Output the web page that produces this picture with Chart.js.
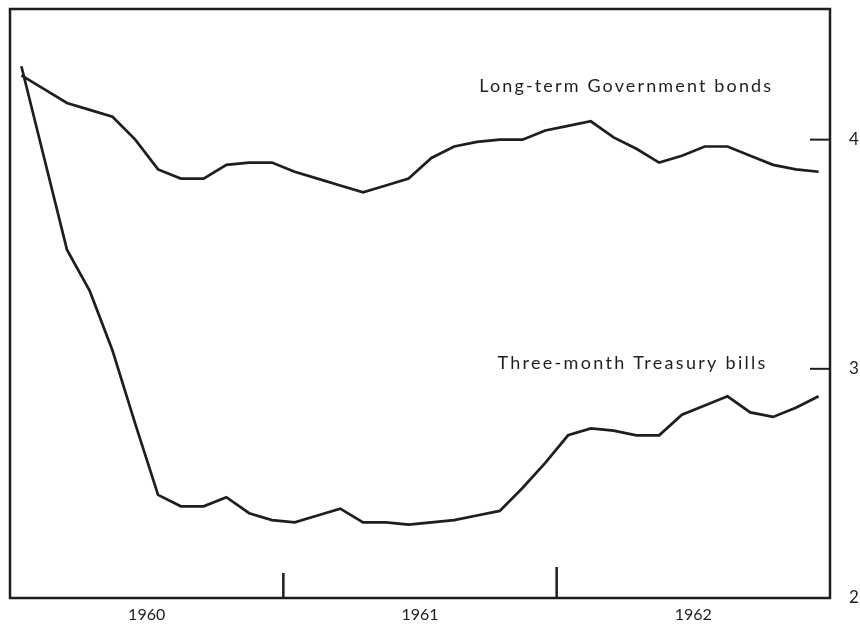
<!DOCTYPE html>
<html>
<head>
<meta charset="utf-8">
<script src="https://cdn.jsdelivr.net/npm/chart.js@4"></script>
<style>
  body { margin: 0; background: #fff; }
  canvas { display: block; }
</style>
</head>
<body>
<canvas id="chart" width="860" height="637"></canvas>
<script>
// monthly readings, Jan 1960 .. Dec 1962 (percent)
const years = ['1960', '1961', '1962'];
const bonds = [
  4.28, 4.22, 4.16, 4.13, 4.10, 4.00, 3.87, 3.83, 3.83, 3.89, 3.90, 3.90,
  3.86, 3.83, 3.80, 3.77, 3.80, 3.83, 3.92, 3.97, 3.99, 4.00, 4.00, 4.04,
  4.06, 4.08, 4.01, 3.96, 3.90, 3.93, 3.97, 3.97, 3.93, 3.89, 3.87, 3.86
];
const bills = [
  4.32, 3.92, 3.52, 3.34, 3.08, 2.76, 2.45, 2.40, 2.40, 2.44, 2.37, 2.34,
  2.33, 2.36, 2.39, 2.33, 2.33, 2.32, 2.33, 2.34, 2.36, 2.38, 2.48, 2.59,
  2.71, 2.74, 2.73, 2.71, 2.71, 2.80, 2.84, 2.88, 2.81, 2.79, 2.83, 2.88
];
const yTicks = [2, 3, 4];
const seriesNames = ['Long-term Government bonds', 'Three-month Treasury bills'];

const ink = '#1e1e1e';
const toPoints = arr => arr.map((v, i) => ({ x: i + 0.5, y: v }));

// frame, inward ticks and the two line labels
const framePlugin = {
  id: 'frame',
  afterDraw(chart) {
    const { ctx, chartArea: a, scales: { x, y } } = chart;
    ctx.save();
    ctx.strokeStyle = ink;
    ctx.lineWidth = 2.5;
    ctx.strokeRect(a.left, a.top, a.right - a.left, a.bottom - a.top);

    ctx.lineWidth = 2;
    yTicks.slice(1).forEach(v => {
      const py = y.getPixelForValue(v);
      ctx.beginPath();
      ctx.moveTo(a.right - 20, py);
      ctx.lineTo(a.right, py);
      ctx.stroke();
    });
    [12, 24].forEach((m, i) => {
      const px = x.getPixelForValue(m);
      ctx.lineWidth = 2.5;
      ctx.beginPath();
      ctx.moveTo(px, a.bottom);
      ctx.lineTo(px, a.bottom - (i ? 31 : 25));
      ctx.stroke();
    });

    ctx.fillStyle = ink;
    ctx.font = '18px Lato';
    ctx.textBaseline = 'alphabetic';
    const labels = [
      { text: seriesNames[0], mx: 20.6, v: 4.206, w: 292 },
      { text: seriesNames[1], mx: 21.4, v: 3.0, w: 268 }
    ];
    labels.forEach(l => {
      ctx.letterSpacing = '0px';
      const base = ctx.measureText(l.text).width;
      const sp = (l.w - base) / (l.text.length - 1);
      ctx.letterSpacing = sp.toFixed(2) + 'px';
      ctx.fillText(l.text, x.getPixelForValue(l.mx), y.getPixelForValue(l.v));
    });
    ctx.restore();
  }
};

new Chart(document.getElementById('chart'), {
  type: 'line',
  data: {
    datasets: [
      { label: seriesNames[0], data: toPoints(bonds) },
      { label: seriesNames[1], data: toPoints(bills) }
    ]
  },
  options: {
    responsive: false,
    animation: false,
    layout: { padding: { left: 10, top: 9, right: 0, bottom: 13 } },
    elements: {
      line: { borderColor: ink, borderWidth: 2.7, tension: 0 },
      point: { radius: 0 }
    },
    plugins: { legend: { display: false }, tooltip: { enabled: false } },
    scales: {
      x: {
        type: 'linear',
        min: 0,
        max: 36,
        grid: { display: false, drawTicks: false },
        border: { display: false },
        afterBuildTicks: s => { s.ticks = years.map((yr, i) => ({ value: 6 + 12 * i })); },
        afterFit: s => { s.height = 26; s.paddingLeft = 0; s.paddingRight = 0; },
        ticks: {
          autoSkip: false,
          maxRotation: 0,
          padding: 7,
          color: ink,
          font: { family: 'Lato', size: 16 },
          callback: (v, i) => years[i]
        }
      },
      y: {
        position: 'right',
        min: 2,
        max: 4.57,
        grid: { display: false, drawTicks: false },
        border: { display: false },
        afterBuildTicks: s => { s.ticks = yTicks.map(v => ({ value: v })); },
        afterFit: s => { s.width = 30; s.paddingTop = 0; s.paddingBottom = 0; },
        ticks: {
          padding: 19,
          color: ink,
          font: { family: 'Lato', size: 17 },
          callback: v => String(v)
        }
      }
    }
  },
  plugins: [framePlugin]
});
</script>
</body>
</html>
